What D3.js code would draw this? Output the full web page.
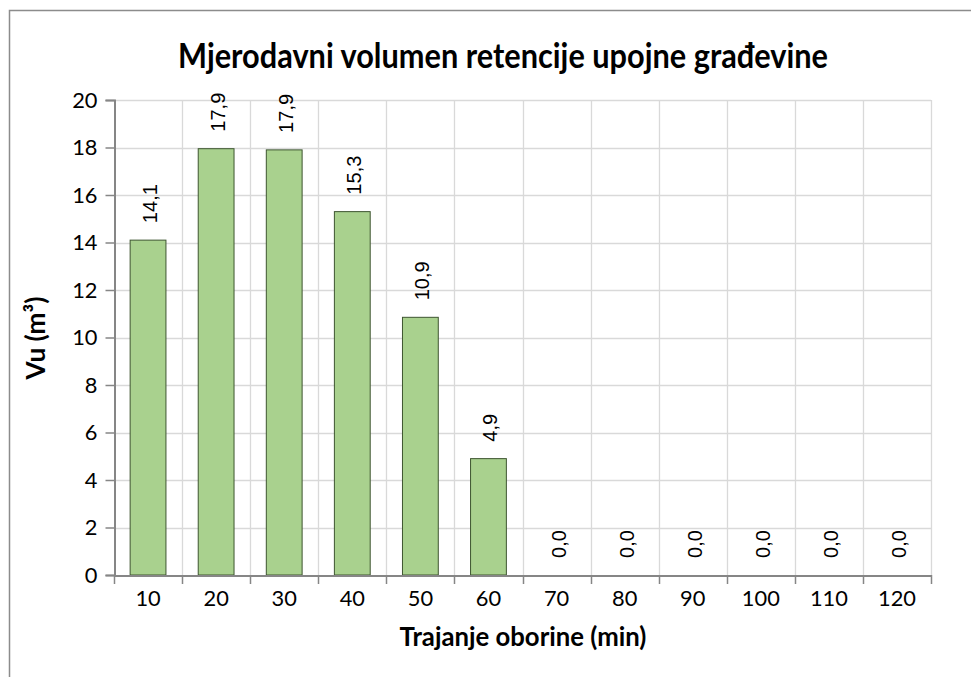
<!DOCTYPE html>
<html><head><meta charset="utf-8">
<script src="https://cdn.jsdelivr.net/npm/d3@7/dist/d3.min.js"></script>
<style>html,body{margin:0;padding:0;background:#fff;overflow:hidden}</style>
</head><body>
<svg id="c" width="971" height="677"></svg>
<script>
const categories = ["10","20","30","40","50","60","70","80","90","100","110","120"];
const values = [14.1, 17.95, 17.9, 15.3, 10.85, 4.9, 0, 0, 0, 0, 0, 0];
const labels = ["14,1","17,9","17,9","15,3","10,9","4,9","0,0","0,0","0,0","0,0","0,0","0,0"];
const yTicks = [0,2,4,6,8,10,12,14,16,18,20];
const title = "Mjerodavni volumen retencije upojne građevine";
const xTitle = "Trajanje oborine (min)";
const yTitle = "Vu (m³)";

const svg = d3.select("#c");
const L = 114, R = 931, T = 100, B = 575;

svg.append("rect").attr("x",9.5).attr("y",10.5).attr("width",1000).attr("height",700)
  .attr("fill","#fff").attr("stroke","#8c8c8c").attr("stroke-width",1.5);

const x = d3.scaleBand().domain(categories).range([L,R]).paddingInner(0.474).paddingOuter(0.237);
const xb = d3.scaleLinear().domain([0,categories.length]).range([L,R]);
const y = d3.scaleLinear().domain([0,20]).range([B,T]);

// gridlines
svg.append("g").selectAll("line").data(yTicks.filter(d=>d>0)).join("line")
  .attr("x1",L).attr("x2",R).attr("y1",d=>Math.round(y(d))+0.5).attr("y2",d=>Math.round(y(d))+0.5)
  .attr("stroke","#d9d9d9").attr("stroke-width",1.3);
svg.append("g").selectAll("line").data(d3.range(1,categories.length+1)).join("line")
  .attr("x1",d=>Math.round(xb(d))+0.5).attr("x2",d=>Math.round(xb(d))+0.5).attr("y1",T).attr("y2",B)
  .attr("stroke","#d9d9d9").attr("stroke-width",1.3);

// bars
svg.append("g").selectAll("rect").data(values).join("rect")
  .attr("x",(d,i)=>x(categories[i])).attr("width",x.bandwidth())
  .attr("y",d=>y(d)).attr("height",d=>B-y(d))
  .attr("fill","#a9d18e").attr("stroke","#3e5530").attr("stroke-width",1)
  .attr("display",d=>d>0?null:"none");

function scaleFor(sel, w){ const cur=sel.node().getComputedTextLength(); return w/cur; }

// data labels
const dl = svg.append("g").selectAll("text").data(values).join("text")
  .attr("transform",(d,i)=>`translate(${x(categories[i])+x.bandwidth()/2+2},${y(d)-17}) rotate(-90)`)
  .attr("dominant-baseline","central")
  .attr("font-family","'Liberation Sans', Arial, sans-serif").attr("font-size",20)
  .attr("fill","#000").text((d,i)=>labels[i]);
const dlScale = scaleFor(d3.select(dl.nodes()[0]), 39);
dl.attr("font-size", 20*dlScale);

// y axis
const ya = svg.append("g").attr("transform",`translate(${L+0.5},0)`)
  .call(d3.axisLeft(y).tickValues(yTicks).tickSize(9).tickPadding(8).tickFormat(d3.format("d")));
ya.select(".domain").attr("stroke","#868686").attr("stroke-width",2);
ya.selectAll(".tick line").attr("stroke","#868686").attr("stroke-width",1.5);

// x axis
const xa = svg.append("g").attr("transform",`translate(0,${B+0.5})`)
  .call(d3.axisBottom(x).tickSize(0).tickPadding(15));
xa.select(".domain").attr("stroke","#868686").attr("stroke-width",2);
svg.append("g").selectAll("line").data(d3.range(0,categories.length+1)).join("line")
  .attr("x1",d=>Math.round(xb(d))+0.5).attr("x2",d=>Math.round(xb(d))+0.5).attr("y1",B).attr("y2",B+9)
  .attr("stroke","#868686").attr("stroke-width",1.5);

const allTicks = svg.selectAll(".tick text").attr("font-family","Lato, sans-serif").attr("font-size",24).attr("fill","#000");
const ref = xa.selectAll(".tick text").filter(d=>d==="100");
const tickFont = 24*scaleFor(ref, 38);
allTicks.attr("font-size", tickFont);

function fit(sel, w){ const fs=+sel.attr("font-size"); sel.attr("font-size",fs*scaleFor(sel,w)); }

const t = svg.append("text").attr("x",503).attr("y",0).attr("text-anchor","middle")
  .attr("font-family","Lato, sans-serif").attr("font-weight","bold").attr("font-size",26).text(title);
fit(t,650);
t.attr("transform","translate(0,68) scale(1,1.12)");
const xt = svg.append("text").attr("x",523).attr("y",646).attr("text-anchor","middle")
  .attr("font-family","Lato, sans-serif").attr("font-weight","bold").attr("font-size",20).text(xTitle);
fit(xt,247);
const yt = svg.append("text").attr("transform",`translate(45,338) rotate(-90)`).attr("text-anchor","middle")
  .attr("font-family","Lato, sans-serif").attr("font-weight","bold").attr("font-size",20).text(yTitle);
fit(yt,83);
</script>
</body></html>
